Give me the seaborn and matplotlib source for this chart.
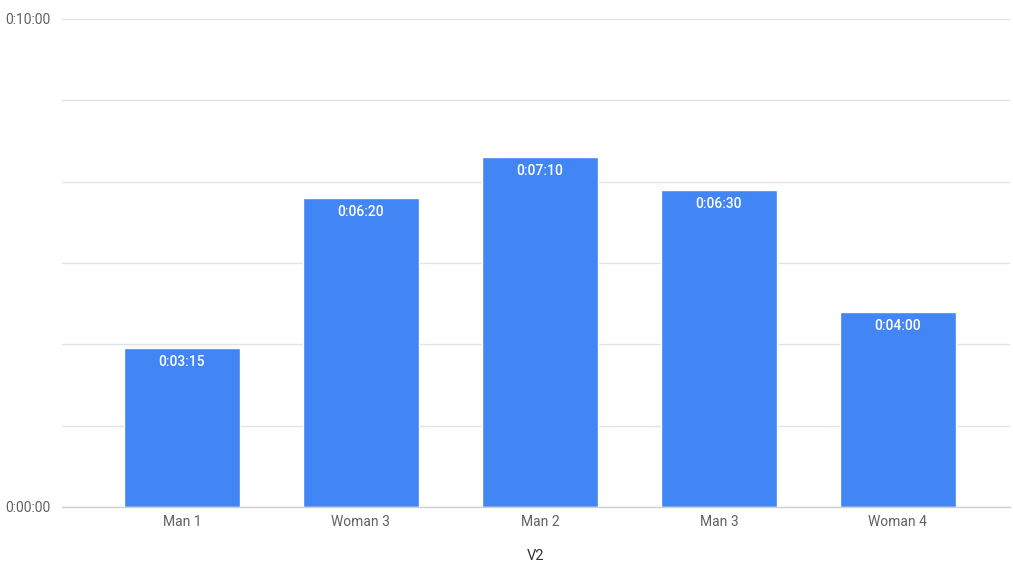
import numpy as np
import pandas as pd
import matplotlib
matplotlib.use("Agg")
import matplotlib.pyplot as plt
import seaborn as sns

# Data (durations in seconds)
categories = ["Man 1", "Woman 3", "Man 2", "Man 3", "Woman 4"]
durations = [195, 380, 430, 390, 240]
y_ticks = [0, 100, 200, 300, 400, 500, 600]
y_tick_labels = ["0:00:00", "", "", "", "", "", "0:10:00"]


def fmt_hms(sec):
    sec = int(round(sec))
    return f"{sec // 3600}:{(sec % 3600) // 60:02d}:{sec % 60:02d}"


df = pd.DataFrame({"name": categories, "seconds": durations})

sns.set_theme(style="white")
plt.rcParams["font.family"] = ["Roboto", "DejaVu Sans"]

fig = plt.figure(figsize=(10.13, 5.63), dpi=100)
ax = fig.add_axes([62 / 1013, 1 - 507 / 563, (1010 - 62) / 1013, (507 - 19) / 563])

sns.barplot(data=df, x="name", y="seconds", color="#4285F4", saturation=1,
            width=0.65, ax=ax, zorder=3)

ax.set_xlim(-0.67, 4.626)
ax.set_ylim(0, 600)
ax.set_yticks(y_ticks)
ax.set_yticklabels(y_tick_labels)
ax.yaxis.grid(True, color="#e3e3e3", linewidth=1, zorder=0)
ax.set_axisbelow(True)

for side in ["top", "right", "left"]:
    ax.spines[side].set_visible(False)
ax.spines["bottom"].set_color("#cfcfcf")
ax.spines["bottom"].set_linewidth(1)
ax.spines["bottom"].set_zorder(4)

ax.tick_params(axis="both", length=0, labelsize=10, colors="#616161")
ax.tick_params(axis="y", pad=8)
ax.tick_params(axis="x", pad=6)

ax.set_xlabel("V2", fontsize=10.5, color="#333333", labelpad=14)
ax.set_ylabel("")

# value labels inside the top of each bar
for patch, val in zip(ax.patches, durations):
    cx = patch.get_x() + patch.get_width() / 2
    ax.annotate(fmt_hms(val), (cx, patch.get_height()), xytext=(0, -5),
                textcoords="offset points", ha="center", va="top",
                color="white", fontsize=10, fontweight="medium", zorder=5)

fig.savefig("out.png", dpi=100)
